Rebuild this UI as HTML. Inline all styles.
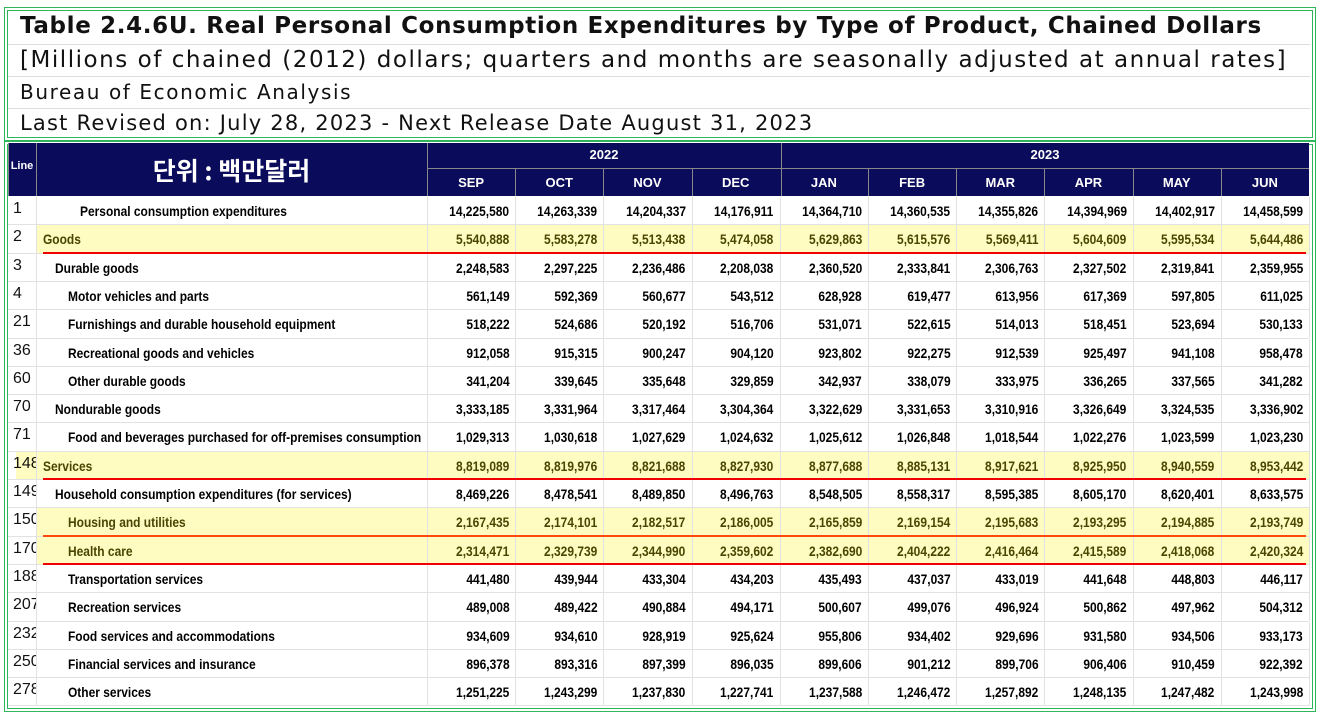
<!DOCTYPE html>
<html><head><meta charset="utf-8">
<style>
body{margin:0;width:1318px;height:713px;background:#fff;position:relative;overflow:hidden;font-family:"Liberation Sans","Noto Sans CJK KR",sans-serif}
.box{position:absolute;border:4px double #2fb55a;box-sizing:border-box}
.hl{position:absolute;left:20px;font-size:22px;color:#111;white-space:nowrap;font-family:"DejaVu Sans","Liberation Sans",sans-serif}
.sep{position:absolute;left:8px;right:8px;height:1px;background:#ddd}
.nav{position:absolute;background:#0b0b5c}
.ht{position:absolute;color:#fff;font-weight:bold;font-size:13px;text-align:center;font-family:"Liberation Sans",sans-serif}
.c{position:absolute;white-space:nowrap}
.s{display:inline-block;transform:scaleX(.855);font-size:14px;font-weight:bold}
</style></head><body>
<div class="box" style="left:4px;top:7px;width:1312px;height:134px"></div>
<div class="hl" style="top:13px;font-weight:bold;font-size:23px;letter-spacing:0.65px">Table 2.4.6U. Real Personal Consumption Expenditures by Type of Product, Chained Dollars</div>
<div class="sep" style="top:44px"></div>
<div class="hl" style="top:47px;font-size:23px;letter-spacing:1.53px">[Millions of chained (2012) dollars; quarters and months are seasonally adjusted at annual rates]</div>
<div class="sep" style="top:76px"></div>
<div class="hl" style="top:80px;font-size:20px;letter-spacing:1.6px">Bureau of Economic Analysis</div>
<div class="sep" style="top:108px"></div>
<div class="hl" style="top:111px;font-size:21px;letter-spacing:1.22px">Last Revised on: July 28, 2023 - Next Release Date August 31, 2023</div>
<div class="box" style="left:4px;top:141px;width:1312px;height:571px"></div>
<div id="t"></div>
<script>
const months=['SEP','OCT','NOV','DEC','JAN','FEB','MAR','APR','MAY','JUN'];
const rows=[
['1','Personal consumption expenditures',3,0,'14,225,580','14,263,339','14,204,337','14,176,911','14,364,710','14,360,535','14,355,826','14,394,969','14,402,917','14,458,599'],
['2','Goods',0,1,'5,540,888','5,583,278','5,513,438','5,474,058','5,629,863','5,615,576','5,569,411','5,604,609','5,595,534','5,644,486'],
['3','Durable goods',1,0,'2,248,583','2,297,225','2,236,486','2,208,038','2,360,520','2,333,841','2,306,763','2,327,502','2,319,841','2,359,955'],
['4','Motor vehicles and parts',2,0,'561,149','592,369','560,677','543,512','628,928','619,477','613,956','617,369','597,805','611,025'],
['21','Furnishings and durable household equipment',2,0,'518,222','524,686','520,192','516,706','531,071','522,615','514,013','518,451','523,694','530,133'],
['36','Recreational goods and vehicles',2,0,'912,058','915,315','900,247','904,120','923,802','922,275','912,539','925,497','941,108','958,478'],
['60','Other durable goods',2,0,'341,204','339,645','335,648','329,859','342,937','338,079','333,975','336,265','337,565','341,282'],
['70','Nondurable goods',1,0,'3,333,185','3,331,964','3,317,464','3,304,364','3,322,629','3,331,653','3,310,916','3,326,649','3,324,535','3,336,902'],
['71','Food and beverages purchased for off-premises consumption',2,0,'1,029,313','1,030,618','1,027,629','1,024,632','1,025,612','1,026,848','1,018,544','1,022,276','1,023,599','1,023,230'],
['148','Services',0,1,'8,819,089','8,819,976','8,821,688','8,827,930','8,877,688','8,885,131','8,917,621','8,925,950','8,940,559','8,953,442'],
['149','Household consumption expenditures (for services)',1,0,'8,469,226','8,478,541','8,489,850','8,496,763','8,548,505','8,558,317','8,595,385','8,605,170','8,620,401','8,633,575'],
['150','Housing and utilities',2,2,'2,167,435','2,174,101','2,182,517','2,186,005','2,165,859','2,169,154','2,195,683','2,193,295','2,194,885','2,193,749'],
['170','Health care',2,1,'2,314,471','2,329,739','2,344,990','2,359,602','2,382,690','2,404,222','2,416,464','2,415,589','2,418,068','2,420,324'],
['188','Transportation services',2,0,'441,480','439,944','433,304','434,203','435,493','437,037','433,019','441,648','448,803','446,117'],
['207','Recreation services',2,0,'489,008','489,422','490,884','494,171','500,607','499,076','496,924','500,862','497,962','504,312'],
['232','Food services and accommodations',2,0,'934,609','934,610','928,919','925,624','955,806','934,402','929,696','931,580','934,506','933,173'],
['250','Financial services and insurance',2,0,'896,378','893,316','897,399','896,035','899,606','901,212','899,706','906,406','910,459','922,392'],
['278','Other services',2,0,'1,251,225','1,243,299','1,237,830','1,227,741','1,237,588','1,246,472','1,257,892','1,248,135','1,247,482','1,243,998']];
(function(){
const T=document.getElementById('t');
function add(cls,css,txt){const d=document.createElement('div');d.className=cls;d.style.cssText=css;if(txt!=null)d.textContent=txt;T.appendChild(d);return d;}
function addS(css,txt,origin,col){const d=add('c',css);const s=document.createElement('span');s.className='s';s.style.transformOrigin=origin;s.style.color=col;s.textContent=txt;d.appendChild(s);return d;}
const x0=427,cw=88.2,y0=197,rh=28.3;
let n=add('nav','left:8px;top:143px;width:1301px;height:53px');


add('nav','left:8px;top:143px;width:1px;height:53px;background:#888');
add('nav','left:36px;top:143px;width:1px;height:53px;background:#888');
add('nav','left:427px;top:143px;width:1px;height:53px;background:#888');
add('nav','left:781px;top:143px;width:1px;height:53px;background:#888');
add('nav','left:427px;top:168px;width:882px;height:1px;background:#888');
let h=add('ht','left:8px;top:160px;width:28px;font-size:11px','Line');


h=add('ht','left:36px;top:153px;width:391px;font-size:25px;font-family:"Noto Sans CJK KR",sans-serif;line-height:34px','단위 : 백만달러');


h=add('ht','left:427px;top:147px;width:354px','2022');


h=add('ht','left:781px;top:147px;width:528px','2023');


months.forEach((m,i)=>{
 const x=x0+i*cw;
 if(i>0&&i!=4)add('nav',`left:${x}px;top:168px;width:1px;height:28px;background:#888`);
 const e=add('ht',`left:${x}px;top:175px;width:${cw}px`,m);
 
 
});
rows.forEach((r,ri)=>{
 const y=y0+ri*rh;
 const hi=r[3]>0;
 if(hi){const lx=ri==9?16:36;add('c',`left:${lx}px;top:${y}px;width:${1309-lx}px;height:${rh}px;background:#fefcc0`);}
 add('c',`left:8px;top:${y+rh-1}px;width:1301px;height:1px;background:#e2e2e2`);
 for(let i=0;i<=10;i++)add('c',`left:${x0+i*cw}px;top:${y}px;width:1px;height:${rh}px;background:#e2e2e2`);
 add('c',`left:36px;top:${y}px;width:1px;height:${rh}px;background:#e2e2e2`);
 const ln=add('c',`left:13px;top:${y+3}px;width:23px;overflow:hidden;font-size:16px;color:#111`,r[0]);
 
 
 const col=hi?'#4a4500':'#000';
 const lab=addS(`left:${43+r[2]*12.3}px;top:${y+6}px`,r[1],'left',col);
 
 
 for(let i=0;i<10;i++){
  const v=addS(`left:${x0+i*cw}px;top:${y+6}px;width:${cw-6}px;text-align:right`,r[4+i],'right',col);
  
  
 }
 if(hi){const u=add('c',`left:43px;top:${y+rh-2}px;width:1263px;height:2px;background:${r[3]==2?'#ff4a10':'#f00000'}`);
  
  }
});
})();
</script>
</body></html>
